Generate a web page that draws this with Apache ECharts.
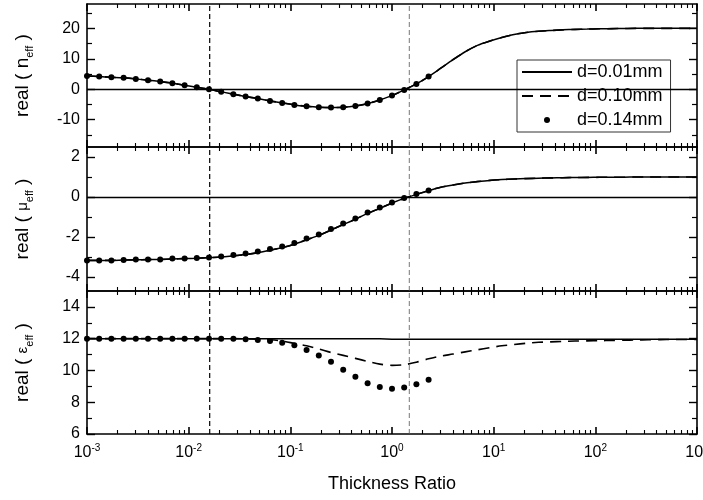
<!DOCTYPE html>
<html>
<head>
<meta charset="utf-8">
<script src="https://cdn.jsdelivr.net/npm/echarts@6/dist/echarts.min.js"></script>
<style>
  html, body { margin: 0; padding: 0; background: #fff; }
  #chart { width: 703px; height: 500px; }
</style>
</head>
<body>
<div id="chart"></div>
<script>
// thickness ratio samples (log spaced), curves use all, d=0.14mm dots stop at ~2.3
const thicknessRatio = [
  0.001, 0.001318, 0.001738, 0.002291, 0.00302, 0.003981, 0.005248, 0.006918, 0.00912, 0.01202,
  0.01585, 0.02089, 0.02754, 0.03631, 0.04786, 0.0631, 0.08318, 0.1096, 0.1445, 0.1905,
  0.2512, 0.3311, 0.4365, 0.5754, 0.7586, 1.0, 1.318, 1.738, 2.291, 3.02,
  3.981, 5.248, 6.918, 9.12, 12.02, 15.85, 20.89, 27.54, 36.31, 47.86,
  63.1, 83.18, 109.6, 144.5, 190.5, 251.2, 331.1, 436.5, 575.4, 758.6, 1000,
];
const dotRatio = thicknessRatio.slice(0, 29);

// real(n_eff)
const nSolid = [
  4.37, 4.15, 3.94, 3.72, 3.39, 2.96, 2.5, 1.97, 1.3, 0.64,
  0, -0.88, -1.64, -2.43, -3.08, -3.85, -4.5, -5.16, -5.6, -5.92,
  -6.05, -5.92, -5.49, -4.74, -3.52, -2.1, -0.23, 1.74, 4.15, 6.9,
  9.7, 12.3, 14.4, 15.8, 17.0, 18.0, 18.65, 19.05, 19.3, 19.5,
  19.65, 19.75, 19.85, 19.9, 19.95, 20.0, 20.0, 20.0, 20.0, 20.0, 20.0,
];
const nDashed = nSolid;
const nDots = [
  4.37, 4.15, 3.94, 3.72, 3.39, 2.96, 2.5, 1.97, 1.3, 0.64,
  0, -0.88, -1.64, -2.43, -3.08, -3.85, -4.5, -5.16, -5.6, -5.92,
  -6.05, -5.92, -5.49, -4.74, -3.52, -2.1, -0.23, 1.74, 4.15,
];

// real(mu_eff)
const muSolid = [
  -3.17, -3.17, -3.17, -3.15, -3.14, -3.13, -3.12, -3.1, -3.08, -3.06,
  -3.03, -3.0, -2.94, -2.88, -2.78, -2.66, -2.53, -2.36, -2.14, -1.92,
  -1.65, -1.38, -1.11, -0.82, -0.57, -0.3, -0.07, 0.13, 0.32, 0.49,
  0.6, 0.7, 0.77, 0.83, 0.87, 0.9, 0.92, 0.94, 0.955, 0.965,
  0.975, 0.98, 0.985, 0.99, 0.99, 1.0, 1.0, 1.0, 1.0, 1.0, 1.0,
];
const muDashed = muSolid;
const muDots = [
  -3.17, -3.17, -3.17, -3.15, -3.13, -3.13, -3.12, -3.08, -3.07, -3.05,
  -3.02, -2.97, -2.9, -2.83, -2.73, -2.6, -2.47, -2.3, -2.08, -1.87,
  -1.6, -1.33, -1.07, -0.77, -0.53, -0.27, -0.05, 0.15, 0.33,
];

// real(eps_eff)
const epsSolid = [
  12, 12, 12, 12, 12, 12, 12, 12, 12, 12,
  12, 12, 12, 12, 12, 12, 12, 12, 12, 12,
  12, 11.99, 11.99, 11.99, 11.99, 11.97, 11.97, 11.97, 11.97, 11.97,
  11.97, 11.97, 11.97, 11.97, 11.97, 11.97, 11.96, 11.96, 11.96, 11.96,
  11.96, 11.96, 11.96, 11.96, 11.96, 11.96, 11.96, 11.96, 11.96, 11.96, 11.96,
];
const epsDashed = [
  12, 12, 12, 12, 12, 12, 12, 12, 12, 12,
  12, 12, 12, 11.99, 11.97, 11.93, 11.85, 11.7, 11.55, 11.35,
  11.13, 10.95, 10.76, 10.57, 10.4, 10.32, 10.36, 10.52, 10.73, 10.9,
  11.03, 11.17, 11.3, 11.43, 11.55, 11.63, 11.71, 11.77, 11.8, 11.83,
  11.85, 11.86, 11.87, 11.89, 11.9, 11.92, 11.93, 11.94, 11.95, 11.95, 11.95,
];
const epsDots = [
  12, 12, 12, 12, 12, 12, 12, 12, 12, 12,
  12, 12, 12, 11.97, 11.92, 11.85, 11.75, 11.58, 11.28, 10.94,
  10.54, 10.04, 9.6, 9.19, 8.96, 8.85, 8.92, 9.13, 9.42,
];

const seriesNames = ['d=0.01mm', 'd=0.10mm', 'd=0.14mm'];
// vertical guide lines (thickness ratio where n_eff crosses zero)
const markerRatio = [0.0161, 1.48];

const xDecades = [0.001, 0.01, 0.1, 1, 10, 100, 1000];
const xMinor = [];
xDecades.slice(0, -1).forEach((d) => {
  for (let m = 2; m <= 9; m++) xMinor.push(m * d);
});

const panels = [
  { top: 4, height: 143, min: -19, max: 28, ticks: [-10, 0, 10, 20], minor: [-15, -5, 5, 15, 25],
    name: 'real ( n{sub|eff} )', solid: nSolid, dashed: nDashed, dots: nDots, zero: true },
  { top: 147, height: 144, min: -4.7, max: 2.5, ticks: [-4, -2, 0, 2], minor: [-3, -1, 1],
    name: 'real ( {g|μ}{sub|eff} )', solid: muSolid, dashed: muDashed, dots: muDots, zero: true },
  { top: 291, height: 143, min: 6, max: 15, ticks: [6, 8, 10, 12, 14], minor: [7, 9, 11, 13],
    name: 'real ( {g|ε}{sub|eff} )', solid: epsSolid, dashed: epsDashed, dots: epsDots, zero: false },
];

const FONT = '"Liberation Sans", Arial, Helvetica, sans-serif';
const INK = '#000';

function pairs(xs, ys) {
  return xs.map((x, i) => [x, ys[i]]);
}

function buildXAxes(g) {
  const base = {
    type: 'log', logBase: 10, min: 0.001, max: 1000, gridIndex: g,
    splitLine: { show: false },
    axisLabel: { show: false },
  };
  const major = {
    axisLine: { show: true, onZero: false, lineStyle: { color: INK, width: 1.6 } },
    axisTick: { show: true, inside: true, length: 7, customValues: xDecades, lineStyle: { color: INK, width: 1.6 } },
  };
  const minor = {
    axisLine: { show: false, onZero: false },
    axisTick: { show: true, inside: true, length: 4, customValues: xMinor, lineStyle: { color: INK, width: 1.1 } },
  };
  const bottom = { ...base, ...major, position: 'bottom' };
  if (g === 2) {
    bottom.axisLabel = {
      show: true,
      customValues: xDecades,
      margin: 9,
      formatter: (v) => `{b|10}{s|${Math.round(Math.log10(v))}}`,
      rich: {
        b: { fontFamily: FONT, fontSize: 16, color: INK, lineHeight: 20, verticalAlign: 'middle' },
        s: { fontFamily: FONT, fontSize: 10, color: INK, lineHeight: 10, verticalAlign: 'top' },
      },
    };
    bottom.name = 'Thickness Ratio';
    bottom.nameLocation = 'middle';
    bottom.nameGap = 41;
    bottom.nameTextStyle = { fontFamily: FONT, fontSize: 18, color: INK };
  }
  return [
    bottom,
    { ...base, ...minor, position: 'bottom' },
    { ...base, ...major, position: 'top' },
    { ...base, ...minor, position: 'top' },
  ];
}

function buildYAxes(p, g) {
  const base = {
    type: 'value', min: p.min, max: p.max, gridIndex: g,
    splitLine: { show: false },
    axisLabel: { show: false },
  };
  const major = {
    axisLine: { show: true, onZero: false, lineStyle: { color: INK, width: 1.6 } },
    axisTick: { show: true, inside: true, length: 8, customValues: p.ticks, lineStyle: { color: INK, width: 1.4 } },
  };
  const minor = {
    axisLine: { show: false, onZero: false },
    axisTick: { show: true, inside: true, length: 5, customValues: p.minor, lineStyle: { color: INK, width: 1.2 } },
  };
  const left = {
    ...base, ...major, position: 'left',
    axisLabel: { show: true, customValues: p.ticks, margin: 7, fontFamily: FONT, fontSize: 16, color: INK },
    name: p.name,
    nameLocation: 'middle',
    nameGap: 52,
    nameTextStyle: {
      fontFamily: FONT, fontSize: 19, color: INK, lineHeight: 24,
      rich: {
        g: { fontFamily: FONT, fontSize: 15, color: INK, lineHeight: 24, verticalAlign: 'middle' },
        sub: { fontFamily: FONT, fontSize: 11, color: INK, lineHeight: 12, verticalAlign: 'bottom' },
      },
    },
  };
  return [
    left,
    { ...base, ...minor, position: 'left' },
    { ...base, ...major, position: 'right' },
    { ...base, ...minor, position: 'right' },
  ];
}

function buildSeries(p, g) {
  const axes = { xAxisIndex: g * 4, yAxisIndex: g * 4 };
  const out = [
    {
      ...axes, name: seriesNames[0], type: 'line', symbol: 'none', smooth: 0.3,
      data: pairs(thicknessRatio, p.solid),
      lineStyle: { color: INK, width: 1.5 }, itemStyle: { color: INK },
      markLine: p.zero ? {
        silent: true, symbol: 'none', label: { show: false },
        data: [{ yAxis: 0, lineStyle: { color: INK, width: 1.4, type: 'solid' } }],
      } : undefined,
      z: 3,
    },
    {
      ...axes, name: seriesNames[1], type: 'line', symbol: 'none', smooth: 0.3,
      data: pairs(thicknessRatio, p.dashed),
      lineStyle: { color: INK, width: 1.6, type: [11, 7] }, itemStyle: { color: INK },
      z: 3,
    },
    {
      ...axes, name: seriesNames[2], type: 'scatter', symbol: 'circle', symbolSize: 6,
      data: pairs(dotRatio, p.dots),
      itemStyle: { color: INK, opacity: 1 },
      z: 4,
    },
  ];
  // vertical dashed guides spanning the whole panel
  markerRatio.forEach((x, i) => {
    out.push({
      ...axes, name: 'guide' + i, type: 'line', symbol: 'none', silent: true,
      data: [[x, p.min], [x, p.max]],
      lineStyle: i === 0
        ? { color: INK, width: 1.2, type: [5, 3] }
        : { color: '#555', width: 0.8, type: [5, 3] },
      z: 2,
    });
  });
  return out;
}

const chart = echarts.init(document.getElementById('chart'), null, { renderer: 'canvas' });

chart.setOption({
  animation: false,
  backgroundColor: '#fff',
  textStyle: { fontFamily: FONT },
  grid: panels.map((p) => ({
    left: 87, right: 6, top: p.top, height: p.height,
    containLabel: false, outerBoundsMode: 'none',
  })),
  xAxis: panels.flatMap((p, g) => buildXAxes(g)),
  yAxis: panels.flatMap((p, g) => buildYAxes(p, g)),
  legend: {
    orient: 'vertical',
    left: 517, top: 60,
    data: [
      { name: seriesNames[0], itemStyle: { opacity: 0 } },
      { name: seriesNames[1], itemStyle: { opacity: 0 } },
      { name: seriesNames[2] },
    ],
    itemWidth: 50, itemHeight: 6, itemGap: 6,
    padding: [3, 8, 3, 4],
    backgroundColor: '#fff',
    borderColor: '#333', borderWidth: 1, borderRadius: 0,
    textStyle: { fontFamily: FONT, fontSize: 18, color: INK },
    selectedMode: false,
  },
  series: panels.flatMap((p, g) => buildSeries(p, g)),
});
</script>
</body>
</html>
